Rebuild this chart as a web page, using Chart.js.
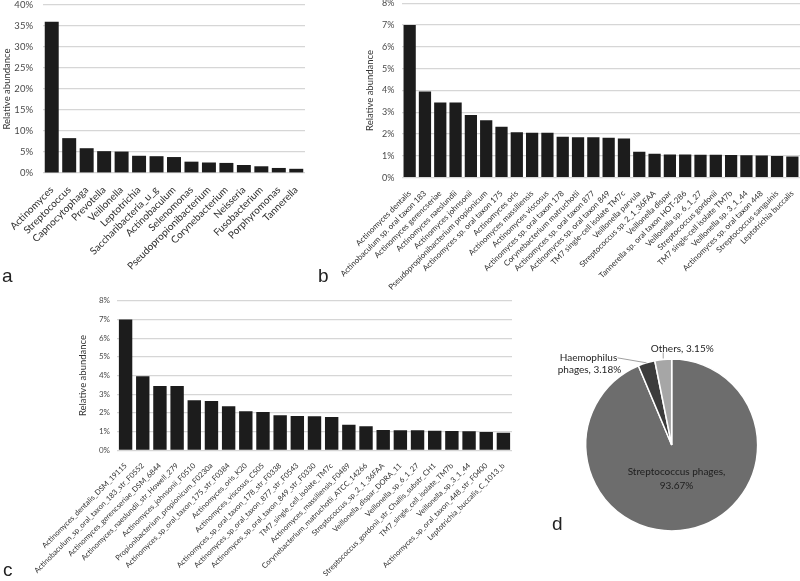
<!DOCTYPE html>
<html>
<head>
<meta charset="utf-8">
<style>
  body { margin:0; background:#fff; width:800px; height:581px; position:relative; overflow:hidden; }
  canvas { position:absolute; }
  .tag { position:absolute; font-family:"Liberation Sans", Arial, sans-serif; font-size:19px; line-height:1; color:#222; }
</style>
</head>
<body>
<canvas id="chartA" width="315" height="290" style="left:0;top:0"></canvas>
<canvas id="chartB" width="480" height="290" style="left:320px;top:0"></canvas>
<canvas id="chartC" width="530" height="291" style="left:0;top:290px"></canvas>
<canvas id="chartD" width="260" height="281" style="left:540px;top:300px"></canvas>
<span class="tag" style="left:2px;top:266px">a</span>
<span class="tag" style="left:318px;top:266px">b</span>
<span class="tag" style="left:3px;top:560px">c</span>
<span class="tag" style="left:552px;top:514px">d</span>

<script src="https://cdn.jsdelivr.net/npm/chart.js"></script>
<script>
  // panel a: genus level
  const genusNames = ['Actinomyces','Streptococcus','Capnocytophaga','Prevotella','Veillonella',
    'Leptotrichia','Saccharibacteria_u_g','Actinobaculum','Selenomonas','Pseudopropionibacterium',
    'Corynebacterium','Neisseria','Fusobacterium','Porphyromonas','Tannerella'];
  const genusValues = [36.0, 8.3, 5.9, 5.2, 5.1, 4.1, 4.0, 3.8, 2.7, 2.5, 2.4, 1.9, 1.6, 1.2, 1.0];

  // panel b: species level
  const speciesNames = ['Actinomyces dentalis','Actinobaculum sp. oral taxon 183','Actinomyces gerencseriae',
    'Actinomyces naeslundii','Actinomyces johnsonii','Pseudopropionibacterium propionicum',
    'Actinomyces sp. oral taxon 175','Actinomyces oris','Actinomyces massiliensis','Actinomyces viscosus',
    'Actinomyces sp. oral taxon 178','Corynebacterium matruchotii','Actinomyces sp. oral taxon 877',
    'Actinomyces sp. oral taxon 849','TM7 single-cell isolate TM7c','Veillonella parvula',
    'Streptococcus sp. 2_1_36FAA','Veillonella dispar','Tannerella sp. oral taxon HOT-286',
    'Veillonella sp. 6_1_27','Streptococcus gordonii','TM7 single-cell isolate TM7b',
    'Veillonella sp. 3_1_44','Actinomyces sp. oral taxon 448','Streptococcus sanguinis','Leptotrichia buccalis'];
  const speciesValues = [7.0, 3.95, 3.45, 3.45, 2.88, 2.63, 2.34, 2.08, 2.06, 2.06, 1.88, 1.86, 1.86,
    1.83, 1.80, 1.19, 1.10, 1.06, 1.06, 1.05, 1.05, 1.04, 1.03, 1.02, 1.00, 0.97];

  // panel c: strain level
  const strainNames = ['Actinomyces_dentalis_DSM_19115','Actinobaculum_sp_oral_taxon_183_str_F0552',
    'Actinomyces_gerencseriae_DSM_6844','Actinomyces_naeslundii_str_Howell_279','Actinomyces_johnsonii_F0510',
    'Propionibacterium_propionicum_F0230a','Actinomyces_sp_oral_taxon_175_str_F0384','Actinomyces_oris_K20',
    'Actinomyces_viscosus_C505','Actinomyces_sp_oral_taxon_178_str_F0338','Actinomyces_sp_oral_taxon_877_str_F0543',
    'Actinomyces_sp_oral_taxon_849_str_F0330','TM7_single_cell_isolate_TM7c','Actinomyces_massiliensis_F0489',
    'Corynebacterium_matruchotii_ATCC_14266','Streptococcus_sp_2_1_36FAA','Veillonella_dispar_DORA_11',
    'Veillonella_sp_6_1_27','Streptococcus_gordonii_str_Challis_substr_CH1','TM7_single_cell_isolate_TM7b',
    'Veillonella_sp_3_1_44','Actinomyces_sp_oral_taxon_448_str_F0400','Leptotrichia_buccalis_C_1013_b'];
  const strainValues = [7.0, 3.96, 3.44, 3.44, 2.67, 2.64, 2.35, 2.09, 2.05, 1.87, 1.84, 1.82, 1.78,
    1.37, 1.28, 1.09, 1.07, 1.07, 1.05, 1.03, 1.02, 0.98, 0.94];

  // panel d: phages
  const phageNames = ['Streptococcus phages','Haemophilus phages','Others'];
  const phageShares = [93.67, 3.18, 3.15];

  function makeBar(id, labels, values, o) {
    return new Chart(document.getElementById(id), {
      type: 'bar',
      data: {
        labels: labels,
        datasets: [{
          data: values,
          backgroundColor: '#1c1c1c',
          barPercentage: o.barPct,
          categoryPercentage: 1
        }]
      },
      options: {
        responsive: false,
        animation: false,
        layout: { padding: { left: 0, top: o.padTop, right: o.padRight, bottom: 0 } },
        plugins: { legend: { display: false }, tooltip: { enabled: false } },
        scales: {
          x: {
            grid: { display: false },
            border: { display: false },
            ticks: {
              autoSkip: false, minRotation: 45, maxRotation: 45, padding: 3,
              color: '#2e2e2e', font: { family: 'Lato', size: o.xFont }
            },
            afterFit(s) { s.height = o.axisH; s.paddingLeft = 0; s.paddingRight = 0; }
          },
          y: {
            min: 0, max: o.yMax,
            grid: { color: '#d6d6d6', lineWidth: 1.2, drawTicks: false },
            border: { display: false },
            ticks: {
              stepSize: o.yStep, padding: o.tickPad, color: '#4a4a4a',
              font: { family: 'Lato', size: o.yFont },
              callback: v => v + '%'
            },
            title: {
              display: true, text: 'Relative abundance', color: '#333333',
              font: { family: 'Lato', size: 9.5 }, padding: { top: o.titlePad, bottom: 0 }
            },
            afterFit(s) { s.width = o.axisW; s.paddingTop = 0; s.paddingBottom = 0; }
          }
        }
      }
    });
  }

  makeBar('chartA', genusNames, genusValues,
    { yMax: 40, yStep: 5, padTop: 5, padRight: 10, axisW: 43, axisH: 117,
      tickPad: 10, titlePad: 1.3, xFont: 10, yFont: 9.5, barPct: 0.8 });
  makeBar('chartB', speciesNames, speciesValues,
    { yMax: 8, yStep: 1, padTop: 3.2, padRight: 0, axisW: 82, axisH: 112.3,
      tickPad: 7.5, titlePad: 44.3, xFont: 8, yFont: 9, barPct: 0.8 });
  makeBar('chartC', strainNames, strainValues,
    { yMax: 8, yStep: 1, padTop: 10.7, padRight: 18, axisW: 117, axisH: 130.7,
      tickPad: 7, titlePad: 77.3, xFont: 7.5, yFont: 8, barPct: 0.78 });

  const pieLabels = {
    id: 'pieLabels',
    afterDraw(chart) {
      const ctx = chart.ctx;
      const arcs = chart.getDatasetMeta(0).data;
      const at = (a, k) => {
        const m = (a.startAngle + a.endAngle) / 2;
        return { x: a.x + Math.cos(m) * a.outerRadius * k, y: a.y + Math.sin(m) * a.outerRadius * k };
      };
      ctx.save();
      ctx.font = '10px Lato';
      ctx.fillStyle = '#1e1e1e';
      ctx.textAlign = 'center';
      ctx.textBaseline = 'middle';

      // big slice, inside
      let p = at(arcs[0], 0.4);
      ctx.fillText(phageNames[0] + ',', p.x - 2, p.y - 7);
      ctx.fillText(phageShares[0].toFixed(2) + '%', p.x - 2, p.y + 7);

      ctx.strokeStyle = '#a0a0a0';
      ctx.lineWidth = 1;

      // Haemophilus
      p = at(arcs[1], 1);
      ctx.beginPath();
      ctx.moveTo(p.x, p.y);
      ctx.lineTo(p.x - 29, p.y - 5);
      ctx.stroke();
      const parts = phageNames[1].split(' ');
      ctx.fillText(parts[0], p.x - 58, p.y - 5);
      ctx.fillText(parts[1] + ', ' + phageShares[1].toFixed(2) + '%', p.x - 57, p.y + 7);

      // Others
      p = at(arcs[2], 1);
      ctx.beginPath();
      ctx.moveTo(p.x, p.y - 1);
      ctx.lineTo(p.x, p.y - 7);
      ctx.stroke();
      ctx.fillText(phageNames[2] + ', ' + phageShares[2].toFixed(2) + '%', p.x + 19, p.y - 11);
      ctx.restore();
    }
  };

  new Chart(document.getElementById('chartD'), {
    type: 'pie',
    data: {
      labels: phageNames,
      datasets: [{
        data: phageShares,
        backgroundColor: ['#6d6d6d', '#3c3c3c', '#a6a6a6'],
        borderColor: '#ffffff',
        borderWidth: 1.5
      }]
    },
    options: {
      responsive: false,
      animation: false,
      layout: { padding: { left: 45, right: 41.6, top: 58.3, bottom: 49.3 } },
      plugins: { legend: { display: false }, tooltip: { enabled: false } }
    },
    plugins: [pieLabels]
  });
</script>
</body>
</html>
